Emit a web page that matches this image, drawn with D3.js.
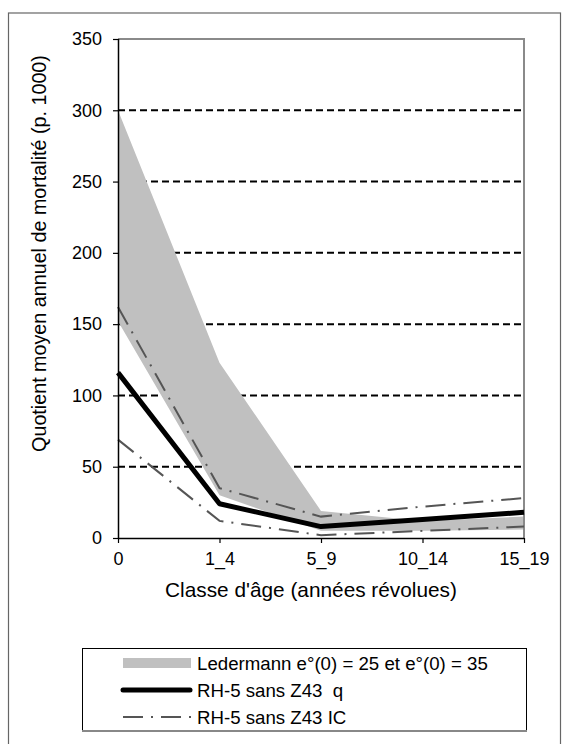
<!DOCTYPE html>
<html><head><meta charset="utf-8">
<script src="https://cdn.jsdelivr.net/npm/d3@7"></script>
<style>
html,body{margin:0;padding:0;background:#fff;}
svg{display:block;font-family:"Liberation Sans",Arial,sans-serif;}
</style></head>
<body><svg id="c" width="562" height="744"></svg>
<script>
const categories = ["0", "1_4", "5_9", "10_14", "15_19"];
const ledermannUpper = [300, 123, 19, 12, 15];
const ledermannLower = [152, 30, 5, 5, 6];
const rhQ = [116, 24, 8, 13, 18];
const rhICUpper = [162, 35, 15, 22, 28];
const rhICLower = [69, 12, 2, 5, 8];
const yTicks = [0, 50, 100, 150, 200, 250, 300, 350];
const legendLabels = ["Ledermann e°(0) = 25 et e°(0) = 35", "RH-5 sans Z43  q", "RH-5 sans Z43 IC"];

const svg = d3.select("#c");
const x = d3.scalePoint().domain(categories).range([118, 524]);
const y = d3.scaleLinear().domain([0, 350]).range([538, 39]);

// size a text so its length matches a target width
function fit(sel, target) {
  sel.attr("font-size", 20);
  const w = sel.node().getComputedTextLength();
  const fs = Math.max(12, Math.min(24, 20 * target / w));
  sel.attr("font-size", fs);
  return fs;
}

// outer border
svg.append("rect").attr("x", 8.5).attr("y", 13).attr("width", 552).attr("height", 760)
  .attr("fill", "none").attr("stroke", "#666").attr("stroke-width", 1.2);

// gridlines
svg.append("g").selectAll("line").data(yTicks.filter(d => d > 0 && d < 350)).join("line")
  .attr("x1", 118).attr("x2", 524).attr("y1", d => y(d)).attr("y2", d => y(d))
  .attr("stroke", "#000").attr("stroke-width", 2).attr("stroke-dasharray", "7,4");

// band
const data = categories.map((c, i) => ({c, up: ledermannUpper[i], lo: ledermannLower[i], q: rhQ[i], icu: rhICUpper[i], icl: rhICLower[i]}));
svg.append("path").datum(data)
  .attr("d", d3.area().x(d => x(d.c)).y0(d => y(d.lo)).y1(d => y(d.up)))
  .attr("fill", "#c0c0c0");

// plot border top & right (gray)
svg.append("path").attr("d", `M118,${y(350)}H524V${y(0)}`).attr("fill", "none")
  .attr("stroke", "#8a8a8a").attr("stroke-width", 2);

// IC lines
const ln = k => d3.line().x(d => x(d.c)).y(d => y(d[k]));
["icu", "icl"].forEach(k => {
  svg.append("path").datum(data).attr("d", ln(k)).attr("fill", "none")
    .attr("stroke", "#555").attr("stroke-width", 2).attr("stroke-dasharray", "20,8,2,8");
});
// q line
svg.append("path").datum(data).attr("d", ln("q")).attr("fill", "none")
  .attr("stroke", "#000").attr("stroke-width", 5).attr("stroke-linejoin", "round");

// axes
const yAxis = svg.append("g").attr("transform", "translate(118,0)")
  .call(d3.axisLeft(y).tickValues(yTicks).tickSize(5).tickPadding(11));
const xAxis = svg.append("g").attr("transform", `translate(0,${y(0)})`)
  .call(d3.axisBottom(x).tickSize(5).tickPadding(9));
[yAxis, xAxis].forEach(g => {
  g.select(".domain").attr("stroke", "#000").attr("stroke-width", 1.5);
  g.selectAll(".tick line").attr("stroke", "#000").attr("stroke-width", 1.2);
  g.selectAll("text").attr("fill", "#000")
    .attr("font-family", "'Liberation Sans',Arial,sans-serif");
});
const t350 = yAxis.selectAll(".tick text").filter(d => d === 350);
const tickFs = fit(t350, 30);
yAxis.selectAll("text").attr("font-size", tickFs);
xAxis.selectAll("text").attr("font-size", tickFs);
xAxis.select(".domain").attr("d", "M118,0.5H524");
yAxis.select(".domain").attr("d", `M0.5,${y(0)}V${y(350)}`);

// axis titles
const xt = svg.append("text").attr("x", 311).attr("y", 597).attr("text-anchor", "middle")
  .text("Classe d'âge (années révolues)");
fit(xt, 292);
const yt = svg.append("text").attr("transform", "translate(46,253.5) rotate(-90)").attr("text-anchor", "middle")
  .text("Quotient moyen annuel de mortalité (p. 1000)");
fit(yt, 397);

// legend
const lg = svg.append("g");
lg.append("rect").attr("x", 82.5).attr("y", 648.5).attr("width", 444).attr("height", 82)
  .attr("fill", "#fff").attr("stroke", "#000").attr("stroke-width", 1);
lg.append("line").attr("x1", 82).attr("x2", 527).attr("y1", 731).attr("y2", 731)
  .attr("stroke", "#888").attr("stroke-width", 2);
const rows = [663, 690, 717];
lg.append("rect").attr("x", 123).attr("y", rows[0] - 5).attr("width", 68).attr("height", 10).attr("fill", "#c0c0c0");
lg.append("line").attr("x1", 123).attr("x2", 190).attr("y1", rows[1]).attr("y2", rows[1])
  .attr("stroke", "#000").attr("stroke-width", 5).attr("stroke-linecap", "round");
lg.append("line").attr("x1", 123).attr("x2", 193).attr("y1", rows[2]).attr("y2", rows[2])
  .attr("stroke", "#555").attr("stroke-width", 2).attr("stroke-dasharray", "20,8,2,8");
const lt = lg.selectAll("text.l").data(legendLabels).join("text").attr("class", "l")
  .attr("x", 197).attr("y", (d, i) => rows[i]).attr("dy", "0.35em")
  .attr("xml:space", "preserve").style("white-space", "pre").text(d => d);
const lfs = fit(lt.filter((d, i) => i === 0), 291);
lt.attr("font-size", lfs);
</script></body></html>
